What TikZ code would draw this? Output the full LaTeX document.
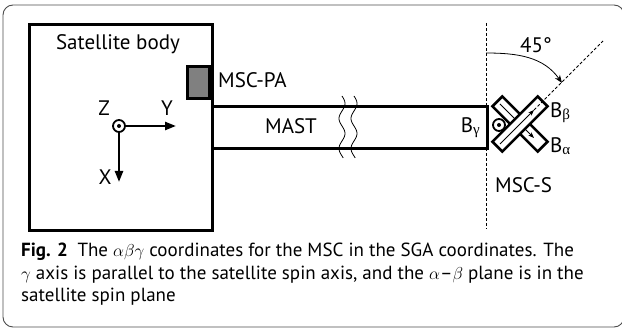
\documentclass[tikz,border=0pt]{standalone}
\usepackage{fontspec}
\setmainfont{PT Sans}
\newfontfamily\grk{Liberation Serif}
\usetikzlibrary{arrows.meta,calc}
\begin{document}
\begin{tikzpicture}[x=1pt,y=-1pt,
  lbl/.style={font=\fontsize{21}{25}\selectfont, inner sep=0pt},
  captext/.style={font=\fontsize{19}{23}\selectfont, inner sep=0pt, anchor=base west},
  boxline/.style={draw, line width=3pt},
  axisarrow/.style={line width=2.3pt, -{Triangle[length=11pt,width=8pt]}},
  guide/.style={line width=0.8pt, dash pattern=on 3pt off 2pt},
  sensorbar/.style={draw, fill=white, line width=2.6pt, minimum width=64pt, minimum height=14pt, inner sep=0pt},
  barvec/.style={line width=0.9pt, -{Stealth[length=6pt,width=4.5pt]}},
  dotcirc/.style={draw, fill=white, circle, line width=1.8pt, minimum size=12pt, inner sep=0pt}
  ]
\useasboundingbox (0,0) rectangle (622,328);
\draw[black!70, line width=0.9pt, rounded corners=10pt] (3,5) rectangle (624,327);

% satellite body
\node (body) [boxline, anchor=north west, minimum width=183pt, minimum height=206pt] at (28,23) {};
\node (bodylbl) [lbl, anchor=base] at (118,50) {Satellite body};

% MSC-PA
\node (pa) [boxline, fill=black!50, anchor=north east, minimum width=22pt, minimum height=32pt] at (211,65) {};
\node (palbl) [lbl, anchor=base west] at (218,88) {MSC-PA};

% mast
\node (mast) [boxline, anchor=north west, minimum width=275pt, minimum height=42pt] at (211,105) {};
\node (mastlbl) [lbl, anchor=base] at (291,134) {MAST};
\draw[line width=0.8pt] plot[domain=96:158, samples=50] ({342+3*sin((\x-96)*12)}, \x);
\draw[line width=0.8pt] plot[domain=96:158, samples=50] ({354+3*sin((\x-96)*12)}, \x);
\node (bg) [lbl, anchor=base east] at (480,133) {B\raisebox{-1.5pt}{\grk\fontsize{15}{15}\selectfont γ}};

% axes
\node (z) [dotcirc] at (119,126) {};
\fill (z.center) circle (2pt);
\coordinate (yend) at (176,126);
\coordinate (xend) at (119,182);
\draw[axisarrow] (z.east) -- (yend);
\draw[axisarrow] (z.south) -- (xend);
\node (zl) [lbl, anchor=base] at (104,116) {Z};
\node (yl) [lbl, anchor=base] at (167,116) {Y};
\node (xl) [lbl, anchor=base] at (105,185) {X};

% guides
\coordinate (vtop) at (486,23);
\coordinate (vbot) at (486,229);
\draw[guide] (vtop) -- (vbot);

% sensor
\coordinate (S) at (520,124);
\coordinate (btip) at ($(S)+(14,-14)$);
\coordinate (atip) at ($(S)+(14,14)$);
\node (bara) [sensorbar, rotate=-45] at (S) {};
\draw[barvec] ($(S)+(-20,-20)$) -- (atip);
\node (barb) [sensorbar, rotate=45] at (S) {};
\draw[barvec] ($(S)+(-20,20)$) -- (btip);
\coordinate (dend) at ($(btip)+(69,-69)$);
\draw[guide] (btip) -- (dend);
\node (g) [dotcirc] at (499,125) {};
\fill (g.center) circle (2pt);

\coordinate (arcstart) at (486,53);
\coordinate (arcend) at (562,83);
\draw[line width=0.8pt, -{Stealth[length=8pt,width=6pt]}] (arcstart) to[out=0, in=125] (arcend);
\node (ang) [lbl, anchor=base] at (536,53) {45°};

\node (bb) [lbl, anchor=base west] at (550,118) {B\raisebox{-1.5pt}{\grk\fontsize{15}{15}\selectfont β}};
\node (ba) [lbl, anchor=base west] at (550,153) {B\raisebox{-1.5pt}{\grk\fontsize{15}{15}\selectfont α}};
\node (msls) [lbl, anchor=base west] at (495,193) {MSC-S};

% caption
\node (cap1) [captext] at (21,257) {\textbf{Fig. 2}\hspace{0.5em}The $\alpha\beta\gamma$ coordinates for the MSC in the SGA coordinates. The};
\node (cap2) [captext] at (21,279.5) {$\gamma$ axis is parallel to the satellite spin axis, and the $\alpha$--$\beta$ plane is in the};
\node (cap3) [captext] at (21,302) {satellite spin plane};
\end{tikzpicture}
\end{document}
